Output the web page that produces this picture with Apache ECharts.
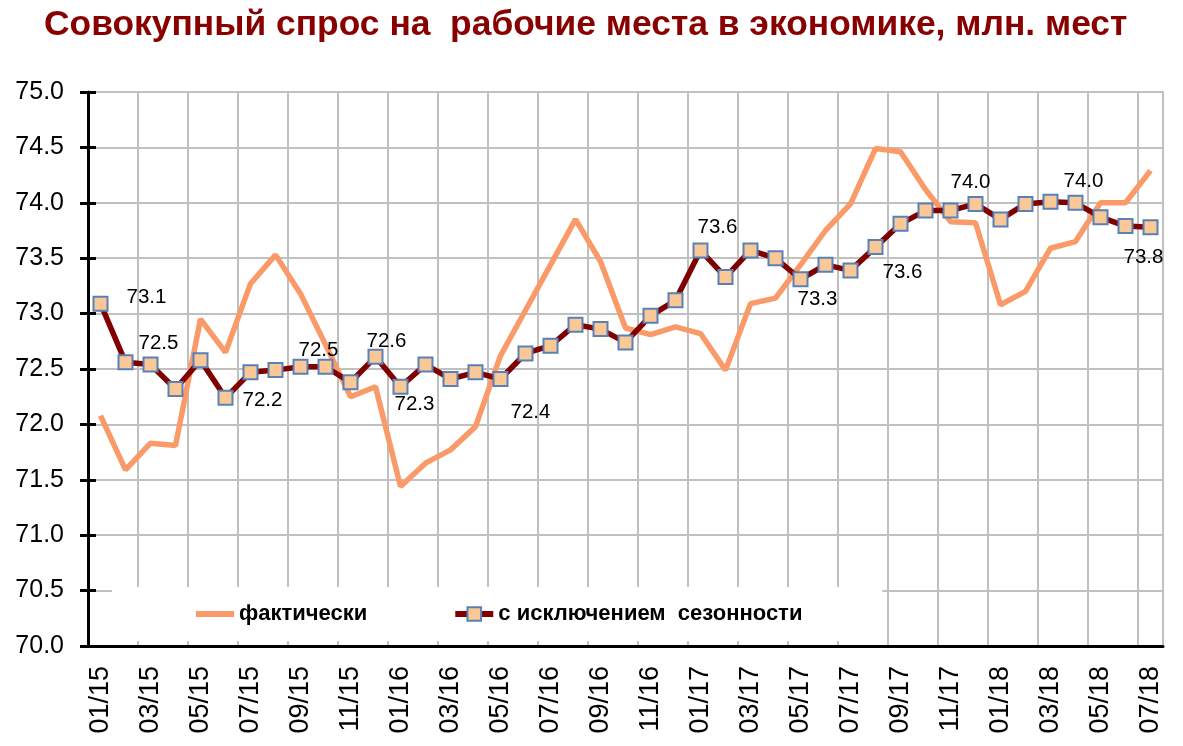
<!DOCTYPE html>
<html>
<head>
<meta charset="utf-8">
<script src="https://cdn.jsdelivr.net/npm/echarts@6/dist/echarts.min.js"></script>
<style>
html,body{margin:0;padding:0;background:#fff;}
#chart{width:1183px;height:746px;}
</style>
</head>
<body>
<div id="chart"></div>
<script>
// ---- data ----
const titleText = 'Совокупный спрос на  рабочие места в экономике, млн. мест';
const seriesNames = ['фактически', 'с исключением  сезонности'];
const categories = [
  '01/15','02/15','03/15','04/15','05/15','06/15','07/15','08/15','09/15','10/15','11/15','12/15',
  '01/16','02/16','03/16','04/16','05/16','06/16','07/16','08/16','09/16','10/16','11/16','12/16',
  '01/17','02/17','03/17','04/17','05/17','06/17','07/17','08/17','09/17','10/17','11/17','12/17',
  '01/18','02/18','03/18','04/18','05/18','06/18','07/18'
];
const actual = [
  72.08, 71.59, 71.83, 71.81, 72.95, 72.65, 73.27, 73.53, 73.18, 72.72, 72.25, 72.34,
  71.44, 71.65, 71.77, 71.98, 72.62, 73.03, 73.44, 73.85, 73.47, 72.87, 72.81, 72.88,
  72.82, 72.49, 73.09, 73.14, 73.44, 73.75, 73.99, 74.49, 74.46, 74.12, 73.83, 73.82,
  73.08, 73.20, 73.59, 73.65, 74.00, 74.00, 74.29
];
const seasAdj = [
  73.09, 72.56, 72.54, 72.32, 72.58, 72.24, 72.47, 72.49, 72.52, 72.52, 72.38, 72.61,
  72.34, 72.54, 72.41, 72.47, 72.41, 72.64, 72.71, 72.90, 72.86, 72.74, 72.98, 73.12,
  73.57, 73.33, 73.57, 73.50, 73.31, 73.44, 73.39, 73.60, 73.81, 73.93, 73.93, 73.99,
  73.85, 73.99, 74.01, 74.00, 73.87, 73.79, 73.78
];
const yTicks = { min: 70, max: 75, interval: 0.5 };
// indices of labelled points (seasonally adjusted series)
const labelledPoints = [0, 2, 5, 9, 11, 12, 16, 24, 28, 31, 35, 39, 42];

// ---- layout (label offsets in px, per labelled point) ----
const labelOffsets = [[46,-6],[8,-21],[37,3],[-7,-16],[11,-15],[14,18],[30,33],[17,-23],[17,20],[27,25],[-5,-22],[8,-21],[-7,30]];

const saData = seasAdj.map((v, i) => {
  const k = labelledPoints.indexOf(i);
  if (k < 0) return v;
  return {
    value: v,
    label: {
      show: true, position: 'inside', offset: labelOffsets[k],
      formatter: p => p.value.toFixed(1),
      color: '#000', fontSize: 20.5, fontFamily: 'Liberation Sans, Arial, sans-serif'
    }
  };
});

const chart = echarts.init(document.getElementById('chart'), null, { renderer: 'canvas' });
chart.setOption({
  backgroundColor: '#fff',
  animation: false,
  title: {
    text: titleText, left: 39, top: 3,
    textStyle: { color: '#880000', fontSize: 35.4, fontWeight: 'bold', fontFamily: 'Liberation Sans, Arial, sans-serif' }
  },
  grid: { left: 88, top: 92, width: 1075, height: 554, show: true, borderColor: '#C0C0C0', borderWidth: 2 },
  legend: {
    left: 112, top: 587,
    padding: [16, 80, 16, 81],
    backgroundColor: '#fff',
    itemGap: 85, itemWidth: 38, itemHeight: 17,
    lineStyle: { width: 6 },
    textStyle: { color: '#000', fontSize: 22, fontWeight: 'bold', fontFamily: 'Liberation Sans, Arial, sans-serif' },
    data: [
      { name: seriesNames[0], itemStyle: { color: 'rgba(0,0,0,0)', borderWidth: 0 } },
      { name: seriesNames[1] }
    ]
  },
  xAxis: {
    type: 'category', data: categories, boundaryGap: true,
    axisLine: { lineStyle: { color: '#000', width: 3 } },
    axisTick: { interval: 1, length: 10, lineStyle: { color: '#000', width: 3 } },
    axisLabel: { interval: 1, rotate: 90, margin: 20, color: '#000', fontSize: 27, fontFamily: 'Liberation Sans, Arial, sans-serif' },
    splitLine: { show: true, interval: 1, lineStyle: { color: '#C0C0C0', width: 2 } }
  },
  yAxis: [{
    type: 'value', min: yTicks.min, max: yTicks.max, interval: yTicks.interval,
    axisLine: { show: true, lineStyle: { color: '#000', width: 3 } },
    axisTick: { show: true, length: 8, lineStyle: { color: '#000', width: 3 } },
    axisLabel: { margin: 24, color: '#000', fontSize: 25, fontFamily: 'Liberation Sans, Arial, sans-serif', formatter: v => v.toFixed(1) },
    splitLine: { show: true, lineStyle: { color: '#C0C0C0', width: 2 } }
  }, {
    type: 'value', position: 'left', min: yTicks.min, max: yTicks.max, interval: yTicks.interval,
    axisLine: { show: false },
    axisTick: { show: true, inside: true, length: 8, lineStyle: { color: '#000', width: 3 } },
    axisLabel: { show: false },
    splitLine: { show: false }
  }],
  series: [{
    name: seriesNames[0], type: 'line', data: actual, symbol: 'none', z: 2,
    lineStyle: { color: '#FA9A68', width: 5.5 }, itemStyle: { color: '#FA9A68' }
  }, {
    name: seriesNames[1], type: 'line', data: saData, z: 3,
    symbol: 'rect', symbolSize: 14,
    lineStyle: { color: '#800000', width: 5.5 },
    itemStyle: { color: '#FAC896', borderColor: '#5A80B8', borderWidth: 2 }
  }]
});
</script>
</body>
</html>
